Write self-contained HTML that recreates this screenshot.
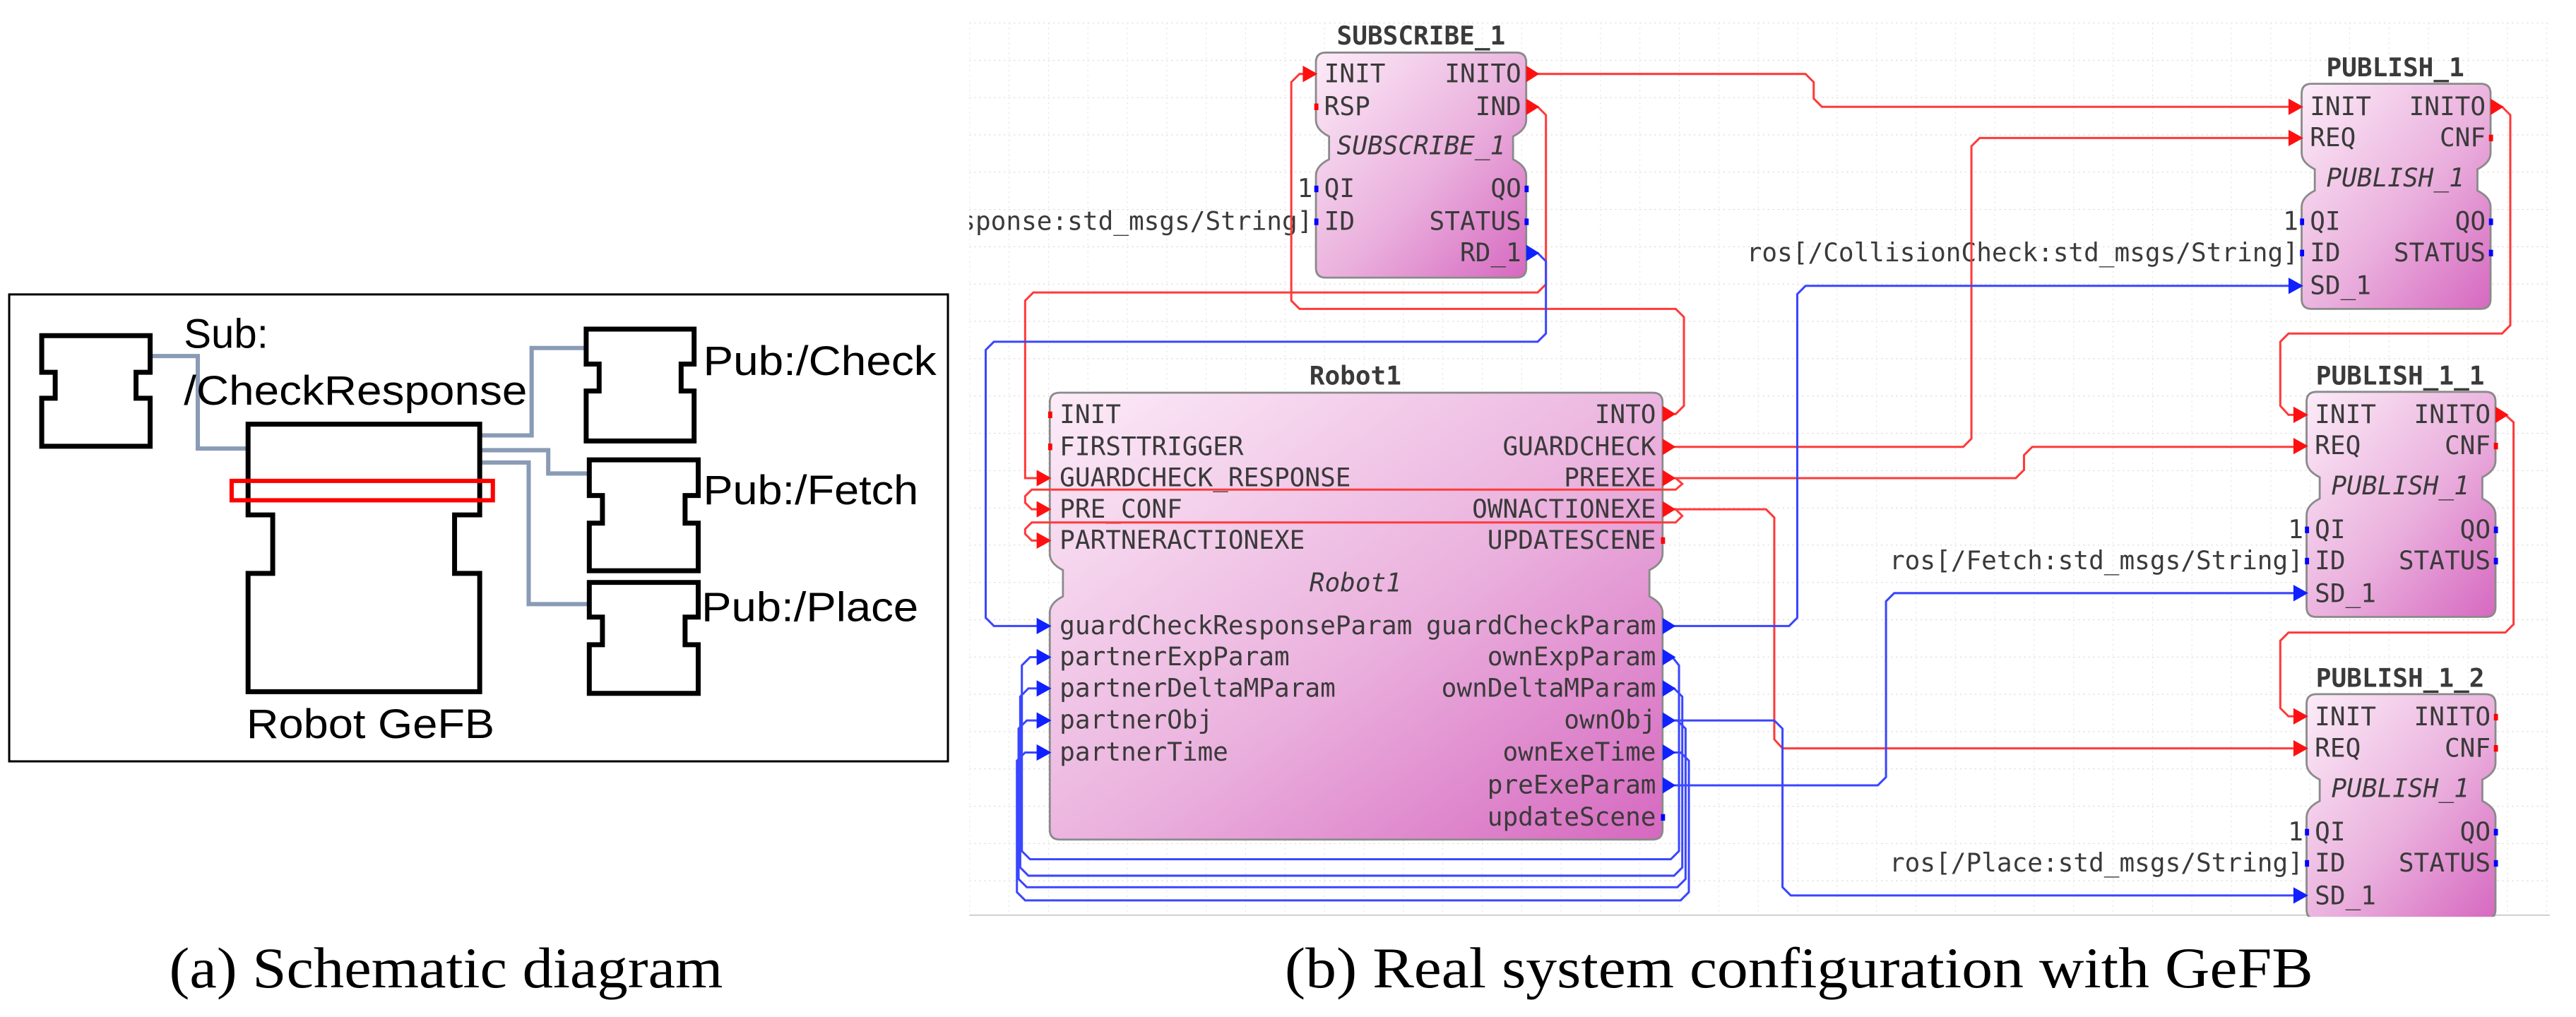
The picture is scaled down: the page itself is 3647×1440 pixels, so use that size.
<!DOCTYPE html>
<html><head><meta charset="utf-8"><style>
html,body{margin:0;padding:0;background:#fff;}
svg{display:block;}
.m{font-family:"DejaVu Sans Mono","Liberation Mono",monospace;font-size:15.5px;fill:#3a3a3a;}
.b{font-weight:bold;}
.i{font-style:italic;}
.e{text-anchor:end;}
.c{text-anchor:middle;}
.s{font-family:"Liberation Sans",Arial,sans-serif;font-size:25px;fill:#000;}
.t{font-family:"Liberation Serif","Times New Roman",serif;font-size:35px;fill:#000;}
.r{fill:none;stroke:#ff3a3a;stroke-width:1.3;}
.u{fill:none;stroke:#3a46ff;stroke-width:1.3;}
</style></head><body>
<svg width="3647" height="1440" viewBox="0 0 1568 619" preserveAspectRatio="none" xmlns="http://www.w3.org/2000/svg">
<defs>
<linearGradient id="g" x1="0" y1="0" x2="1" y2="1">
<stop offset="0" stop-color="#fcecf8"/><stop offset="0.55" stop-color="#eab0dd"/><stop offset="1" stop-color="#d668c0"/>
</linearGradient>
<pattern id="grid" x="590" y="13.8" width="24" height="22.7" patternUnits="userSpaceOnUse">
<line x1="0" y1="0" x2="24" y2="0" stroke="#d0d0d0" stroke-width="0.8" stroke-dasharray="1,2"/>
<line x1="0" y1="0" x2="0" y2="22.7" stroke="#e0e0e0" stroke-width="0.8" stroke-dasharray="1,2"/>
</pattern>
<clipPath id="gc"><rect x="590" y="10" width="965" height="548"/></clipPath>
</defs>
<rect width="1568" height="619" fill="#fff"/>

<!-- LEFT PANEL -->
<rect x="5.6" y="179.2" width="571.4" height="284.2" fill="none" stroke="#000" stroke-width="1.3"/>
<g fill="none" stroke="#8a9bb5" stroke-width="2.6">
<path d="M91.4,216.7 H120.4 V273 H151"/>
<path d="M292,265 H323.6 V211.8 H357"/>
<path d="M292,274 H333.7 V288.2 H359"/>
<path d="M292,281.5 H321.8 V367.7 H359"/>
</g>
<g fill="#fff" stroke="#000" stroke-width="3">
<path d="M25.4,204.3 H91.4 V226.6 H82.8 V242.4 H91.4 V271.6 H25.4 V242.4 H33.6 V226.6 H25.4 Z"/>
<path d="M151,258.2 H292 V313.4 H276.7 V349 H292 V421 H151 V349 H166 V313.4 H151 Z"/>
<path d="M356.8,200.3 H422.5 V221.6 H414.6 V238 H422.5 V268.4 H356.8 V238 H364.7 V221.6 H356.8 Z"/>
<path d="M358.7,279.9 H425 V301.6 H417 V318.4 H425 V347.4 H358.7 V318.4 H366.7 V301.6 H358.7 Z"/>
<path d="M358.7,354.5 H425 V375.6 H417 V392.4 H425 V422 H358.7 V392.4 H366.7 V375.6 H358.7 Z"/>
</g>
<rect x="141" y="292.7" width="159" height="11.8" fill="none" stroke="#ff0000" stroke-width="2.6"/>
<text class="s" x="111.9" y="211.8">Sub:</text>
<text class="s" x="111.9" y="246.3" textLength="209" lengthAdjust="spacingAndGlyphs">/CheckResponse</text>
<text class="s" x="428" y="228.2" textLength="142" lengthAdjust="spacingAndGlyphs">Pub:/Check</text>
<text class="s" x="428" y="307" textLength="131" lengthAdjust="spacingAndGlyphs">Pub:/Fetch</text>
<text class="s" x="427" y="378" textLength="132" lengthAdjust="spacingAndGlyphs">Pub:/Place</text>
<text class="s" x="150" y="449.2" textLength="151" lengthAdjust="spacingAndGlyphs">Robot GeFB</text>

<text class="t" x="103" y="601" textLength="337" lengthAdjust="spacingAndGlyphs">(a) Schematic diagram</text>
<text class="t" x="782" y="601" textLength="626" lengthAdjust="spacingAndGlyphs">(b) Real system configuration with GeFB</text>

<!-- RIGHT PANEL -->
<rect x="590" y="13.8" width="962" height="543.2" fill="url(#grid)"/>
<line x1="590" y1="557" x2="1552" y2="557" stroke="#ccc" stroke-width="0.8"/>

<g clip-path="url(#gc)">
<!-- SUBSCRIBE_1 -->
<path d="M801,38 Q801,32 807,32 H923 Q929,32 929,38 V73 Q929,79 921,83 V97 Q929,101 929,107 V163 Q929,169 923,169 H807 Q801,169 801,163 V107 Q801,101 809,97 V83 Q801,79 801,73 Z" fill="url(#g)" stroke="#8a8a8a" stroke-width="1.2"/>
<text class="m b c" x="865" y="27">SUBSCRIBE_1</text>
<text class="m" x="806" y="50">INIT</text><text class="m e" x="926" y="50">INITO</text>
<text class="m" x="806" y="70">RSP</text><text class="m e" x="926" y="70">IND</text>
<text class="m i c" x="865" y="94">SUBSCRIBE_1</text>
<text class="m e" x="799" y="120">1</text>
<text class="m" x="806" y="120">QI</text><text class="m e" x="926" y="120">QO</text>
<text class="m e" x="799" y="140">sponse:std_msgs/String]</text>
<text class="m" x="806" y="140">ID</text><text class="m e" x="926" y="140">STATUS</text>
<text class="m e" x="926" y="159">RD_1</text>
<rect x="800" y="63" width="2.5" height="4" fill="#f00"/>
<rect x="800" y="113" width="2.5" height="4" fill="#00f"/><rect x="800" y="133" width="2.5" height="4" fill="#00f"/>
<rect x="928" y="113" width="2.5" height="4" fill="#00f"/><rect x="928" y="133" width="2.5" height="4" fill="#00f"/>

<!-- Robot1 -->
<path d="M639,245 Q639,239 645,239 H1006 Q1012,239 1012,245 V337 Q1012,343 1004,347 V363 Q1012,367 1012,373 V505 Q1012,511 1006,511 H645 Q639,511 639,505 V373 Q639,367 647,363 V347 Q639,343 639,337 Z" fill="url(#g)" stroke="#8a8a8a" stroke-width="1.2"/>
<text class="m b c" x="825" y="234">Robot1</text>
<text class="m" x="645" y="257.5">INIT</text><text class="m e" x="1008" y="257.5">INTO</text>
<text class="m" x="645" y="277">FIRSTTRIGGER</text><text class="m e" x="1008" y="277">GUARDCHECK</text>
<text class="m" x="645" y="296">GUARDCHECK_RESPONSE</text><text class="m e" x="1008" y="296">PREEXE</text>
<text class="m" x="645" y="315">PRE_CONF</text><text class="m e" x="1008" y="315">OWNACTIONEXE</text>
<text class="m" x="645" y="334">PARTNERACTIONEXE</text><text class="m e" x="1008" y="334">UPDATESCENE</text>
<text class="m i c" x="825" y="360">Robot1</text>
<text class="m" x="645" y="386">guardCheckResponseParam</text><text class="m e" x="1008" y="386">guardCheckParam</text>
<text class="m" x="645" y="405">partnerExpParam</text><text class="m e" x="1008" y="405">ownExpParam</text>
<text class="m" x="645" y="424">partnerDeltaMParam</text><text class="m e" x="1008" y="424">ownDeltaMParam</text>
<text class="m" x="645" y="443.5">partnerObj</text><text class="m e" x="1008" y="443.5">ownObj</text>
<text class="m" x="645" y="463">partnerTime</text><text class="m e" x="1008" y="463">ownExeTime</text>
<text class="m e" x="1008" y="483">preExeParam</text>
<text class="m e" x="1008" y="502.5">updateScene</text>
<rect x="638" y="250.5" width="2.5" height="4" fill="#f00"/><rect x="638" y="270" width="2.5" height="4" fill="#f00"/>
<rect x="1011" y="327" width="2.5" height="4" fill="#f00"/>
<rect x="1011" y="495.5" width="2.5" height="4" fill="#00f"/>

<!-- PUBLISH blocks -->
<g id="p1">
<path d="M1401,57 Q1401,51 1407,51 H1510 Q1516,51 1516,57 V93 Q1516,99 1508,103 V116 Q1516,120 1516,126 V182 Q1516,188 1510,188 H1407 Q1401,188 1401,182 V126 Q1401,120 1409,116 V103 Q1401,99 1401,93 Z" fill="url(#g)" stroke="#8a8a8a" stroke-width="1.2"/>
<text class="m" x="1406" y="70">INIT</text><text class="m e" x="1513" y="70">INITO</text>
<text class="m" x="1406" y="89">REQ</text><text class="m e" x="1513" y="89">CNF</text>
<text class="m i c" x="1458" y="113.5">PUBLISH_1</text>
<text class="m e" x="1399" y="140">1</text>
<text class="m" x="1406" y="140">QI</text><text class="m e" x="1513" y="140">QO</text>
<text class="m" x="1406" y="159">ID</text><text class="m e" x="1513" y="159">STATUS</text>
<text class="m" x="1406" y="179">SD_1</text>
<rect x="1515" y="82" width="2.5" height="4" fill="#f00"/>
<rect x="1400" y="133" width="2.5" height="4" fill="#00f"/><rect x="1400" y="152" width="2.5" height="4" fill="#00f"/>
<rect x="1515" y="133" width="2.5" height="4" fill="#00f"/><rect x="1515" y="152" width="2.5" height="4" fill="#00f"/>
</g>
<text class="m b c" x="1458" y="46.5">PUBLISH_1</text>
<text class="m e" x="1399" y="159">ros[/CollisionCheck:std_msgs/String]</text>

<g transform="translate(3,187.5)">
<path d="M1401,57 Q1401,51 1407,51 H1510 Q1516,51 1516,57 V93 Q1516,99 1508,103 V116 Q1516,120 1516,126 V182 Q1516,188 1510,188 H1407 Q1401,188 1401,182 V126 Q1401,120 1409,116 V103 Q1401,99 1401,93 Z" fill="url(#g)" stroke="#8a8a8a" stroke-width="1.2"/>
<text class="m" x="1406" y="70">INIT</text><text class="m e" x="1513" y="70">INITO</text>
<text class="m" x="1406" y="89">REQ</text><text class="m e" x="1513" y="89">CNF</text>
<text class="m i c" x="1458" y="113.5">PUBLISH_1</text>
<text class="m e" x="1399" y="140">1</text>
<text class="m" x="1406" y="140">QI</text><text class="m e" x="1513" y="140">QO</text>
<text class="m" x="1406" y="159">ID</text><text class="m e" x="1513" y="159">STATUS</text>
<text class="m" x="1406" y="179">SD_1</text>
<text class="m b c" x="1458" y="46.5">PUBLISH_1_1</text>
<text class="m e" x="1399" y="159">ros[/Fetch:std_msgs/String]</text>
<rect x="1515" y="82" width="2.5" height="4" fill="#f00"/>
<rect x="1400" y="133" width="2.5" height="4" fill="#00f"/><rect x="1400" y="152" width="2.5" height="4" fill="#00f"/>
<rect x="1515" y="133" width="2.5" height="4" fill="#00f"/><rect x="1515" y="152" width="2.5" height="4" fill="#00f"/>
</g>

<g transform="translate(3,371.5)">
<path d="M1401,57 Q1401,51 1407,51 H1510 Q1516,51 1516,57 V93 Q1516,99 1508,103 V116 Q1516,120 1516,126 V182 Q1516,188 1510,188 H1407 Q1401,188 1401,182 V126 Q1401,120 1409,116 V103 Q1401,99 1401,93 Z" fill="url(#g)" stroke="#8a8a8a" stroke-width="1.2"/>
<text class="m" x="1406" y="70">INIT</text><text class="m e" x="1513" y="70">INITO</text>
<text class="m" x="1406" y="89">REQ</text><text class="m e" x="1513" y="89">CNF</text>
<text class="m i c" x="1458" y="113.5">PUBLISH_1</text>
<text class="m e" x="1399" y="140">1</text>
<text class="m" x="1406" y="140">QI</text><text class="m e" x="1513" y="140">QO</text>
<text class="m" x="1406" y="159">ID</text><text class="m e" x="1513" y="159">STATUS</text>
<text class="m" x="1406" y="179">SD_1</text>
<text class="m b c" x="1458" y="46.5">PUBLISH_1_2</text>
<text class="m e" x="1399" y="159">ros[/Place:std_msgs/String]</text>
<rect x="1515" y="63" width="2.5" height="4" fill="#f00"/>
<rect x="1515" y="82" width="2.5" height="4" fill="#f00"/>
<rect x="1400" y="133" width="2.5" height="4" fill="#00f"/><rect x="1400" y="152" width="2.5" height="4" fill="#00f"/>
<rect x="1515" y="133" width="2.5" height="4" fill="#00f"/><rect x="1515" y="152" width="2.5" height="4" fill="#00f"/>
</g>

<!-- red connections -->
<path class="r" d="M929,45 H1099 L1104,50 V60 L1109,65 H1395"/>
<path class="r" d="M929,65 H936 L941,70 V173 L936,178 H629 L624,183 V291 H632"/>
<path class="r" d="M1012,252 H1020 L1025,247 V193 L1020,188 H791 L786,183 V50 L791,45 H795"/>
<path class="r" d="M1012,272 H1195 L1200,267 V89 L1205,84 H1395"/>
<path class="r" d="M1012,291 H1227 L1232,286 V277 L1237,272 H1398"/>
<path class="r" d="M1012,291 H1020 L1024,294.5 L1020,298 H628 L624,302 V306 L628,310 H632"/>
<path class="r" d="M1012,310 H1020 L1024,314 L1020,318 H628 L624,322 V325 L628,329 H632"/>
<path class="r" d="M1012,310 H1075 L1080,315 V450 L1085,455.5 H1398"/>
<path class="r" d="M1516,65 H1523 L1528,70 V198 L1523,203 H1393 L1388,208 V247 L1393,252.5 H1398"/>
<path class="r" d="M1519,252.5 H1525 L1530,257 V380 L1525,385 H1393 L1388,390 V431 L1393,436 H1398"/>

<!-- blue connections -->
<path class="u" d="M929,154 H936 L941,159 V203 L936,208 H605 L600,213 V376 L605,381 H632"/>
<path class="u" d="M1012,381 H1089 L1094,376 V179 L1099,174 H1395"/>
<path class="u" d="M1012,438.5 H1080 L1085,443.5 V540 L1090,545 H1398"/>
<path class="u" d="M1012,478 H1143 L1148,473 V366 L1153,361 H1398"/>
<path class="u" d="M1012,400 H1018 L1022,405 V518 L1017,523 H627 L622,518 V405 L627,400 H632"/>
<path class="u" d="M1012,419 H1019 L1024,424 V528 L1019,533 H626 L621,528 V424 L626,419 H632"/>
<path class="u" d="M1012,438.5 H1021 L1026,443.5 V535 L1021,540 H625 L620,535 V443.5 L625,438.5 H632"/>
<path class="u" d="M1012,458 H1023 L1028,463 V543 L1023,548 H624 L619,543 V463 L624,458 H632"/>

<!-- arrowheads: red inputs -->
<g fill="#ff1010">
<polygon points="793,40 793,50 802,45"/>
<polygon points="1393,60 1393,70 1402,65"/>
<polygon points="1393,79 1393,89 1402,84"/>
<polygon points="1396,247.5 1396,257.5 1405,252.5"/>
<polygon points="1396,266.5 1396,276.5 1405,271.5"/>
<polygon points="1396,431 1396,441 1405,436"/>
<polygon points="1396,450.5 1396,460.5 1405,455.5"/>
<polygon points="631,286 631,296 640,291"/>
<polygon points="631,305 631,315 640,310"/>
<polygon points="631,324 631,334 640,329"/>
<polygon points="929,40 937,45 929,50"/>
<polygon points="929,60 937,65 929,70"/>
<polygon points="1012,247 1020,252 1012,257"/>
<polygon points="1012,267 1020,272 1012,277"/>
<polygon points="1012,286 1020,291 1012,296"/>
<polygon points="1012,305 1020,310 1012,315"/>
<polygon points="1516,60 1524,65 1516,70"/>
<polygon points="1519,247.5 1527,252.5 1519,257.5"/>
</g>
<g fill="#1020ff">
<polygon points="1393,169 1393,179 1402,174"/>
<polygon points="1396,356 1396,366 1405,361"/>
<polygon points="1396,540 1396,550 1405,545"/>
<polygon points="631,376 631,386 640,381"/>
<polygon points="631,395 631,405 640,400"/>
<polygon points="631,414 631,424 640,419"/>
<polygon points="631,433.5 631,443.5 640,438.5"/>
<polygon points="631,453 631,463 640,458"/>
<polygon points="929,149 937,154 929,159"/>
<polygon points="1012,376 1020,381 1012,386"/>
<polygon points="1012,395 1020,400 1012,405"/>
<polygon points="1012,414 1020,419 1012,424"/>
<polygon points="1012,433.5 1020,438.5 1012,443.5"/>
<polygon points="1012,453 1020,458 1012,463"/>
<polygon points="1012,473 1020,478 1012,483"/>
</g>
</g>
</svg>
</body></html>
